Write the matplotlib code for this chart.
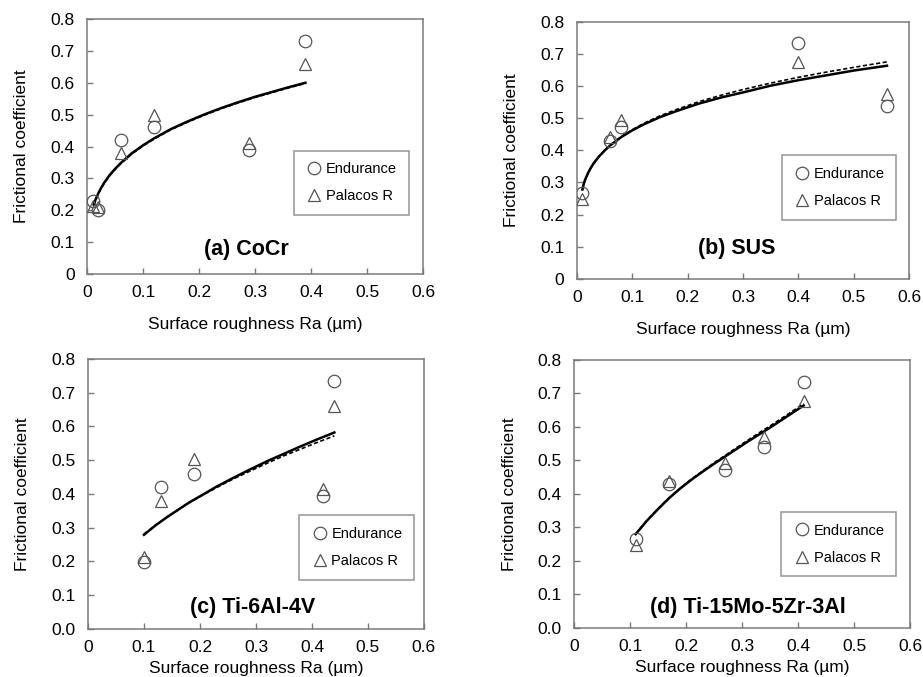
import matplotlib
matplotlib.use('Agg')
import matplotlib.pyplot as plt

plt.rcParams['font.family'] = ['Liberation Sans', 'DejaVu Sans']

# (a) CoCr
a_x = [0.01, 0.02, 0.06, 0.12, 0.29, 0.39]
a_end = [0.23, 0.20, 0.42, 0.46, 0.39, 0.73]
a_pal = [0.215, 0.21, 0.38, 0.50, 0.41, 0.66]
a_fit_x = [0.012, 0.015, 0.02, 0.025, 0.03, 0.04, 0.05, 0.06, 0.08, 0.10, 0.12, 0.15,
           0.18, 0.21, 0.24, 0.27, 0.30, 0.33, 0.36, 0.39]
a_fit_solid = [0.218, 0.233, 0.253, 0.270, 0.285, 0.310, 0.330, 0.348, 0.379, 0.404, 0.426, 0.455,
               0.479, 0.501, 0.521, 0.539, 0.556, 0.571, 0.586, 0.600]
a_fit_dash = [0.216, 0.231, 0.251, 0.268, 0.283, 0.308, 0.328, 0.346, 0.377, 0.402, 0.424, 0.453,
              0.477, 0.499, 0.519, 0.537, 0.554, 0.569, 0.584, 0.598]

# (b) SUS
b_x = [0.01, 0.06, 0.08, 0.40, 0.56]
b_end = [0.267, 0.43, 0.472, 0.733, 0.538]
b_pal = [0.248, 0.441, 0.495, 0.676, 0.574]
b_fit_x = [0.01, 0.0125, 0.015, 0.02, 0.025, 0.03, 0.04, 0.05, 0.06, 0.08, 0.10, 0.12,
           0.15, 0.18, 0.22, 0.26, 0.30, 0.35, 0.40, 0.45, 0.50, 0.56]
b_fit_solid = [0.278, 0.296, 0.309, 0.329, 0.345, 0.359, 0.381, 0.399, 0.415, 0.441, 0.462, 0.480,
               0.503, 0.522, 0.545, 0.564, 0.580, 0.601, 0.618, 0.633, 0.648, 0.663]
b_fit_dash = [0.280, 0.296, 0.308, 0.327, 0.344, 0.357, 0.380, 0.399, 0.416, 0.442, 0.464, 0.483,
              0.507, 0.527, 0.551, 0.571, 0.589, 0.609, 0.627, 0.643, 0.658, 0.675]

# (c) Ti-6Al-4V
c_x = [0.10, 0.13, 0.19, 0.42, 0.44]
c_end = [0.198, 0.422, 0.458, 0.393, 0.734]
c_pal = [0.212, 0.378, 0.503, 0.416, 0.660]
c_fit_x = [0.10, 0.12, 0.14, 0.16, 0.18, 0.20, 0.23, 0.26, 0.29, 0.32, 0.35, 0.38, 0.41, 0.44]
c_fit_solid = [0.279, 0.306, 0.330, 0.352, 0.374, 0.393, 0.422, 0.448, 0.473, 0.497, 0.519, 0.541, 0.562, 0.582]
c_fit_dash = [0.281, 0.307, 0.330, 0.352, 0.373, 0.392, 0.419, 0.445, 0.468, 0.491, 0.513, 0.533, 0.553, 0.572]

# (d) Ti-15Mo-5Zr-3Al
d_x = [0.11, 0.17, 0.27, 0.34, 0.41]
d_end = [0.265, 0.429, 0.471, 0.539, 0.734]
d_pal = [0.247, 0.439, 0.493, 0.571, 0.677]
d_fit_x = [0.11, 0.13, 0.15, 0.17, 0.19, 0.21, 0.23, 0.25, 0.27, 0.29, 0.31, 0.33, 0.35, 0.37, 0.39, 0.41]
d_fit_solid = [0.280, 0.320, 0.355, 0.388, 0.417, 0.443, 0.467, 0.490, 0.512, 0.534, 0.556, 0.577,
               0.598, 0.620, 0.642, 0.664]
d_fit_dash = [0.281, 0.321, 0.356, 0.389, 0.418, 0.445, 0.469, 0.493, 0.515, 0.538, 0.560, 0.582,
              0.603, 0.625, 0.647, 0.670]

yt_a = ['0', '0.1', '0.2', '0.3', '0.4', '0.5', '0.6', '0.7', '0.8']
yt_c = ['0.0', '0.1', '0.2', '0.3', '0.4', '0.5', '0.6', '0.7', '0.8']

panels = [
    ('(a) CoCr', a_x, a_end, a_pal, a_fit_x, a_fit_solid, a_fit_dash,
     [0.0943, 0.595, 0.364, 0.377], yt_a, (0.473, 0.098), (0.787, 0.358), 12),
    ('(b) SUS', b_x, b_end, b_pal, b_fit_x, b_fit_solid, b_fit_dash,
     [0.625, 0.588, 0.360, 0.380], yt_a, (0.482, 0.117), (0.789, 0.356), 12),
    ('(c) Ti-6Al-4V', c_x, c_end, c_pal, c_fit_x, c_fit_solid, c_fit_dash,
     [0.0953, 0.0709, 0.364, 0.399], yt_c, (0.491, 0.081), (0.80, 0.302), 4),
    ('(d) Ti-15Mo-5Zr-3Al', d_x, d_end, d_pal, d_fit_x, d_fit_solid, d_fit_dash,
     [0.622, 0.0724, 0.364, 0.396], yt_c, (0.518, 0.078), (0.788, 0.313), 4),
]

fig = plt.figure(figsize=(9.23, 6.77), dpi=100)
grey = '#7a7a7a'
mk = '#555555'

for title, x, end, pal, fx, fs, fd, rect, ylabels, tpos, lpos, xpad in panels:
    ax = fig.add_axes(rect)
    ax.plot(fx, fs, color='black', lw=1.8, zorder=3, solid_joinstyle='round')
    ax.plot(fx, fd, color='black', lw=1.2, ls=(0, (2.5, 1.5)), zorder=3)
    ax.plot(x, end, ls='none', marker='o', ms=9, mfc='none', mec=mk, mew=0.9,
            label='Endurance', zorder=4)
    ax.plot(x, pal, ls='none', marker='^', ms=9, mfc='none', mec=mk, mew=0.9,
            label='Palacos R', zorder=4)
    ax.set_xlim(0, 0.6)
    ax.set_ylim(0, 0.8)
    ax.set_xticks([0, 0.1, 0.2, 0.3, 0.4, 0.5, 0.6])
    ax.set_xticklabels(['0', '0.1', '0.2', '0.3', '0.4', '0.5', '0.6'])
    ax.set_yticks([0, 0.1, 0.2, 0.3, 0.4, 0.5, 0.6, 0.7, 0.8])
    ax.set_yticklabels(ylabels)
    ax.tick_params(direction='in', length=4, width=1, color=grey, labelsize=12.5)
    ax.tick_params(axis='x', pad=8)
    ax.tick_params(axis='y', pad=9)
    for s in ax.spines.values():
        s.set_color(grey)
        s.set_linewidth(1.1)
    ax.set_xlabel('Surface roughness Ra (µm)', fontsize=12.5, labelpad=xpad)
    ax.set_ylabel('Frictional coefficient', fontsize=12.5, labelpad=15)
    ax.text(tpos[0], tpos[1], title, transform=ax.transAxes, ha='center', va='center',
            fontsize=15.5, fontweight='bold')
    leg = ax.legend(loc='center', bbox_to_anchor=lpos, fontsize=10.5, frameon=True,
                    fancybox=False, edgecolor=grey, handletextpad=0.2, handlelength=1.2,
                    labelspacing=0.9, borderpad=0.8, borderaxespad=0)
    leg.get_frame().set_linewidth(1.1)

fig.savefig('out.png', dpi=100)
